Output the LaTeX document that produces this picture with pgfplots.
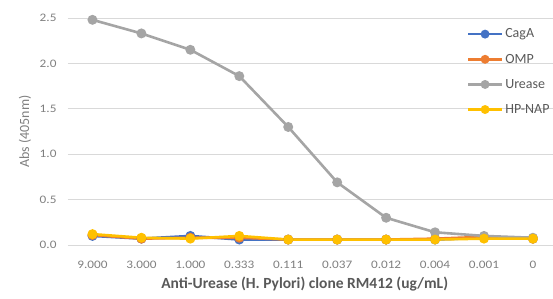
\documentclass[border=0pt]{standalone}
\usepackage{pgfplots}
\pgfplotsset{compat=1.18}
\usepackage{fontspec}
\setmainfont{Carlito}
\definecolor{cagA}{HTML}{4472C4}
\definecolor{omp}{HTML}{ED7D31}
\definecolor{urease}{HTML}{A5A5A5}
\definecolor{hpnap}{HTML}{FFC000}
\definecolor{gridc}{HTML}{D9D9D9}
\definecolor{tickc}{HTML}{7F7F7F}
\definecolor{titc}{HTML}{595959}
\begin{document}
\begin{tikzpicture}
\begin{axis}[
  at={(0,0)}, anchor=south west,
  scale only axis, width=485pt, height=227pt,
  xmin=-0.5, xmax=9.41, ymin=0, ymax=2.5,
  xtick={0,...,9},
  xticklabels={9.000,3.000,1.000,0.333,0.111,0.037,0.012,0.004,0.001,0},
  ytick={0,0.5,...,2.5},
  /pgf/number format/assume math mode=true,
  yticklabel style={/pgf/number format/fixed,/pgf/number format/fixed zerofill,/pgf/number format/precision=1},
  tick label style={font=\fontsize{11.5}{13}\selectfont\addfontfeature{FakeStretch=1.15}, color=tickc},
  major tick length=0pt,
  ymajorgrids, grid style={gridc, line width=0.8pt},
  axis line style={draw=none},
  axis x line*=bottom,
  xticklabel shift=12pt,
  yticklabel shift=8pt,
  ylabel={Abs (405nm)},
  ylabel style={font=\fontsize{14}{16}\selectfont, color=tickc, at={(-43pt,0.5)}, anchor=center, rotate=0},
  xlabel={\textbf{Anti-Urease (H. Pylori) clone RM412 (ug/mL)}},
  xlabel style={font=\fontsize{15.5}{17}\selectfont, color=titc, at={(0.488,-39pt)}, anchor=center},
  clip=false,
  every axis plot/.append style={line width=2.6pt, mark=*, mark size=3.6pt},
  legend style={draw=none, fill=none, at={(0.822,0.962)}, anchor=north west,
    font=\fontsize{14}{16}\selectfont, text=titc, row sep=10.6pt, inner sep=0pt,
    /tikz/every even column/.append style={column sep=0pt}},
  legend cell align=left,
  legend image code/.code={\draw[mark repeat=2,mark phase=2,#1,line width=2.4pt,mark size=3.2pt] plot coordinates {(0pt,0pt) (17pt,0pt) (34pt,0pt)};},
]
\addplot[color=cagA, mark options={fill=cagA}] coordinates {(0,0.10) (1,0.07) (2,0.10) (3,0.06) (4,0.06) (5,0.06) (6,0.06) (7,0.06) (8,0.08) (9,0.07)};
\addlegendentry{CagA}
\addplot[color=omp, mark options={fill=omp}] coordinates {(0,0.11) (1,0.07) (2,0.08) (3,0.08) (4,0.06) (5,0.06) (6,0.06) (7,0.07) (8,0.09) (9,0.07)};
\addlegendentry{OMP}
\addplot[color=urease, mark options={fill=urease}] coordinates {(0,2.48) (1,2.33) (2,2.15) (3,1.86) (4,1.30) (5,0.69) (6,0.30) (7,0.14) (8,0.10) (9,0.08)};
\addlegendentry{Urease}
\addplot[color=hpnap, mark options={fill=hpnap}] coordinates {(0,0.12) (1,0.08) (2,0.07) (3,0.10) (4,0.06) (5,0.06) (6,0.06) (7,0.06) (8,0.07) (9,0.07)};
\addlegendentry{HP-NAP}
\end{axis}
\pgfresetboundingbox
\path (-68pt,-53pt) rectangle (485pt,245pt);
\end{tikzpicture}
\end{document}
